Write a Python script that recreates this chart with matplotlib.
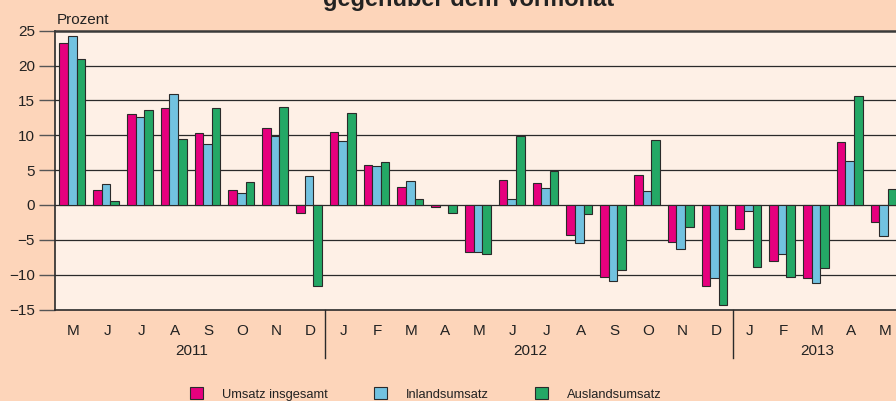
import numpy as np
import matplotlib.pyplot as plt

plt.rcParams['font.family'] = ['Liberation Sans', 'DejaVu Sans']

# Monatswerte Mai 2011 - Mai 2013, Veraenderung gegenueber Vormonat in %
months = ['M', 'J', 'J', 'A', 'S', 'O', 'N', 'D',
          'J', 'F', 'M', 'A', 'M', 'J', 'J', 'A', 'S', 'O', 'N', 'D',
          'J', 'F', 'M', 'A', 'M']
years = ['2011', '2012', '2013']
year_spans = [(0, 7), (8, 19), (20, 24)]

umsatz = [23.2, 2.2, 13.0, 13.9, 10.3, 2.2, 11.1, -1.2,
          10.4, 5.8, 2.6, -0.3, -6.8, 3.6, 3.2, -4.3, -10.4, 4.3, -5.3, -11.7,
          -3.5, -8.1, -10.5, 9.1, -2.4]
inland = [24.2, 3.0, 12.6, 15.9, 8.8, 1.7, 9.9, 4.2,
          9.2, 5.6, 3.4, 0.0, -6.7, 0.8, 2.4, -5.5, -10.9, 2.0, -6.3, -10.5,
          -0.9, -7.0, -11.2, 6.3, -4.4]
ausland = [20.9, 0.6, 13.6, 9.4, 13.9, 3.3, 14.1, -11.6,
           13.2, 6.2, 0.8, -1.1, -7.0, 9.9, 4.9, -1.3, -9.4, 9.3, -3.2, -14.4,
           -8.9, -10.3, -9.1, 15.7, 2.3]
series_names = ['Umsatz insgesamt', 'Inlandsumsatz', 'Auslandsumsatz']

colors = ['#e6007e', '#72c2e0', '#24a866']
bg = '#fdd5ba'
plot_bg = '#fef0e6'
dark = '#2a2a2a'

fig = plt.figure(figsize=(8.96, 4.01), dpi=100, facecolor=bg)
ax = fig.add_axes([55 / 896, 1 - 309.5 / 401, 1 - 55 / 896, (309.5 - 30.7) / 401])
ax.set_facecolor(plot_bg)

x = np.arange(len(months))
w = 0.255
handles = []
for k, (vals, c, name) in enumerate(zip([umsatz, inland, ausland], colors, series_names)):
    b = ax.bar(x + (k - 1) * w - 0.04, vals, width=w, color=c, edgecolor=dark,
               linewidth=0.8, label=name, zorder=3)
    handles.append(b)

ax.set_xlim(-0.55, 24.33)
ax.set_ylim(-15, 25)
ax.set_yticks(range(-15, 30, 5))
ax.set_yticklabels([str(v).replace('-', '\u2212') for v in range(-15, 30, 5)])
for v in range(-10, 25, 5):
    ax.axhline(v, color=dark, lw=0.9, zorder=1)

ax.spines['right'].set_visible(False)
ax.spines['top'].set_color('#3a3a3a')
ax.spines['top'].set_linewidth(1.8)
ax.spines['left'].set_color(dark)
ax.spines['left'].set_linewidth(1.2)
ax.spines['bottom'].set_color(dark)
ax.spines['bottom'].set_linewidth(1.2)
ax.tick_params(axis='y', direction='out', length=11.5, width=1, color='#555555',
               pad=3, labelsize=11, labelcolor='#222222')
ax.set_xticks([])

# Monats- und Jahresbeschriftung
trans = ax.get_xaxis_transform()
for i, m in enumerate(months):
    ax.text(i, -0.077, m, transform=trans, ha='center', va='center',
            fontsize=11, color='#222222')
for yr, (a, b_) in zip(years, year_spans):
    ax.text((a + b_) / 2, -0.148, yr, transform=trans, ha='center', va='center',
            fontsize=11, color='#222222')
for sep in [7.45, 19.5]:
    ax.plot([sep, sep], [0, -0.174], transform=trans, color=dark, lw=1,
            clip_on=False)

fig.text(57 / 896, 1 - 20 / 401, 'Prozent', ha='left', va='center',
         fontsize=11, color='#222222')
fig.text(469 / 896, 1 - 6 / 401, 'gegenüber dem Vormonat', ha='center',
         va='baseline', fontsize=17, fontweight='bold', color='#222222')

fig.legend(handles=handles, labels=series_names, loc='center',
           bbox_to_anchor=(426 / 896, 1 - 394 / 401), ncol=3, frameon=False,
           fontsize=9.3, handlelength=0.95, handleheight=0.95,
           handletextpad=1.5, columnspacing=3.6, labelcolor='#222222')

fig.savefig('out.png', dpi=100, facecolor=bg)
